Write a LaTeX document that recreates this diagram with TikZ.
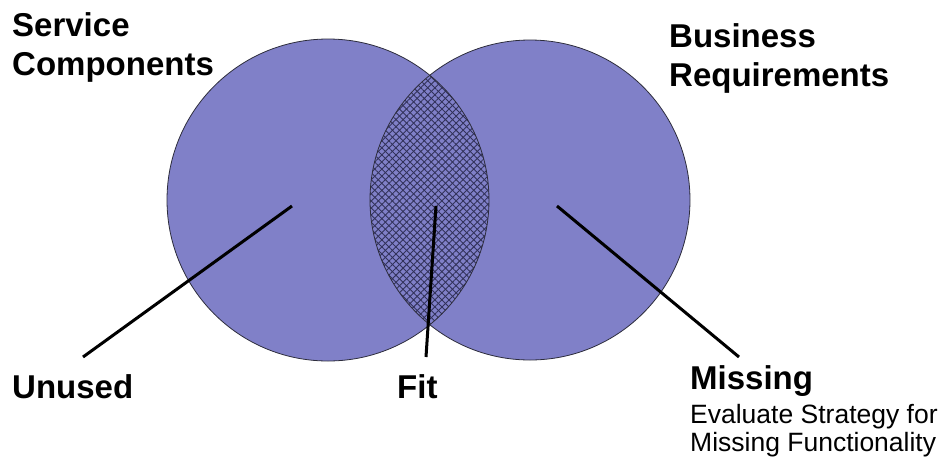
\documentclass[tikz,border=0pt]{standalone}
\usepackage{fontspec}
\setmainfont{Liberation Sans}
\usetikzlibrary{patterns.meta}
\definecolor{vennblue}{RGB}{128,128,200}
\definecolor{hatchcol}{RGB}{50,50,90}
\definecolor{rimcol}{RGB}{45,45,60}
\begin{document}
\begin{tikzpicture}[x=1pt,y=-1pt,
  bigbold/.style={anchor=base west,inner sep=0pt,font=\fontsize{33}{39}\selectfont\bfseries},
  smalltext/.style={anchor=base west,inner sep=0pt,font=\fontsize{26.5}{27}\selectfont},
  pointer/.style={line width=3pt,black},
  rim/.style={draw=rimcol,line width=0.8pt}]
\useasboundingbox (0,0) rectangle (946,459);
% circles
\fill[vennblue] (328,200) circle (161pt);
\fill[vennblue] (530,200) circle (160pt);
\begin{scope}
  \clip (328,200) circle (161pt);
  \fill[pattern={Lines[angle=45,distance=5pt,line width=0.9pt]},pattern color=hatchcol] (530,200) circle (160pt);
  \fill[pattern={Lines[angle=-45,distance=5pt,line width=0.9pt]},pattern color=hatchcol] (530,200) circle (160pt);
\end{scope}
\draw[rim] (328,200) circle (161pt);
\draw[rim] (530,200) circle (160pt);
% labels
\node[bigbold] (sc1) at (12,36) {Service};
\node[bigbold] (sc2) at (12,75) {Components};
\node[bigbold] (br1) at (669,47) {Business};
\node[bigbold] (br2) at (669,86) {Requirements};
\node[bigbold] (unused) at (12,398) {Unused};
\node[bigbold] (fit) at (397,398) {Fit};
\node[bigbold] (missing) at (690,389) {Missing};
\node[smalltext] (ev1) at (690,423) {Evaluate Strategy for};
\node[smalltext] (ev2) at (690,451) {Missing Functionality};
% pointers
\coordinate (uA) at (292,206);
\coordinate (uB) at (83,357);
\coordinate (fA) at (436,206);
\coordinate (fB) at (426,357);
\coordinate (mA) at (557,206);
\coordinate (mB) at (739,357);
\draw[pointer] (uA) -- (uB);
\draw[pointer] (fA) -- (fB);
\draw[pointer] (mA) -- (mB);
\end{tikzpicture}
\end{document}
